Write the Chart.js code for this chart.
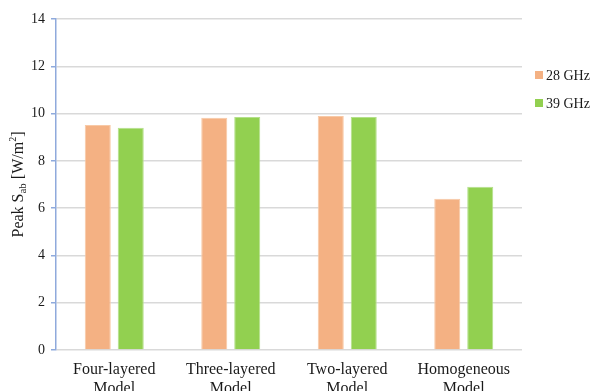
<!DOCTYPE html>
<html>
<head>
<meta charset="utf-8">
<script src="https://cdn.jsdelivr.net/npm/chart.js@4/dist/chart.umd.min.js"></script>
<style>
  html, body { margin: 0; padding: 0; background: #ffffff; }
  #wrap { width: 592px; height: 391px; position: relative; }
</style>
</head>
<body>
<div id="wrap"><canvas id="c" width="592" height="391"></canvas></div>
<script>
// Peak absorbed power density per tissue model
const categories = [
  ['Four-layered', 'Model'],
  ['Three-layered', 'Model'],
  ['Two-layered', 'Model'],
  ['Homogeneous', 'Model']
];
const seriesNames = ['28 GHz', '39 GHz'];
const values28 = [9.52, 9.82, 9.90, 6.40];
const values39 = [9.40, 9.85, 9.85, 6.90];
const yTicks = [0, 2, 4, 6, 8, 10, 12, 14];

const SERIF = '"Liberation Serif", "Times New Roman", serif';
const COLORS = ['#F4B183', '#92D050'];

// Rotated axis title with subscript "ab" and superscript "2"
const yTitlePlugin = {
  id: 'yTitle',
  afterDraw(chart) {
    const ctx = chart.ctx;
    const area = chart.chartArea;
    const parts = [
      { t: 'Peak S', size: 16, dy: 0 },
      { t: 'ab', size: 11, dy: 3 },
      { t: ' [W/m', size: 16, dy: 0 },
      { t: '2', size: 10, dy: -7 },
      { t: ']', size: 16, dy: 0 }
    ];
    ctx.save();
    let total = 0;
    parts.forEach(p => { ctx.font = p.size + 'px ' + SERIF; p.w = ctx.measureText(p.t).width; total += p.w; });
    ctx.translate(18, (area.top + area.bottom) / 2);
    ctx.rotate(-Math.PI / 2);
    ctx.fillStyle = '#1a1a1a';
    ctx.textBaseline = 'alphabetic';
    let x = -total / 2;
    parts.forEach(p => {
      ctx.font = p.size + 'px ' + SERIF;
      ctx.fillText(p.t, x, 5 + p.dy);
      x += p.w;
    });
    ctx.restore();
  }
};

// Legend to the right of the plot, drawn from the dataset labels and colours
const sideLegendPlugin = {
  id: 'sideLegend',
  afterDraw(chart) {
    const ctx = chart.ctx;
    ctx.save();
    ctx.font = '14px ' + SERIF;
    ctx.textBaseline = 'middle';
    chart.data.datasets.forEach((ds, i) => {
      const cy = 75 + i * 28;
      ctx.fillStyle = ds.backgroundColor;
      ctx.fillRect(535, cy - 4, 8, 8);
      ctx.fillStyle = '#1a1a1a';
      ctx.fillText(ds.label, 546, cy + 1);
    });
    ctx.restore();
  }
};

new Chart(document.getElementById('c'), {
  type: 'bar',
  data: {
    labels: categories,
    datasets: [
      { label: seriesNames[0], data: values28, backgroundColor: COLORS[0], borderColor: '#F8C9A6', borderWidth: 1 },
      { label: seriesNames[1], data: values39, backgroundColor: COLORS[1], borderColor: '#B4E08A', borderWidth: 1 }
    ]
  },
  options: {
    responsive: false,
    animation: false,
    devicePixelRatio: 1,
    categoryPercentage: 0.566,
    barPercentage: 0.79,
    layout: { padding: { left: 0, right: 70, top: 19, bottom: 0 } },
    plugins: {
      legend: { display: false },
      tooltip: { enabled: false }
    },
    scales: {
      x: {
        grid: { display: false },
        border: { display: false },
        ticks: {
          color: '#1a1a1a',
          font: { family: SERIF, size: 16, lineHeight: 1.15 },
          padding: 3,
          maxRotation: 0,
          autoSkip: false
        },
        afterFit(scale) { scale.height = 41; }
      },
      y: {
        min: 0,
        max: 14,
        afterBuildTicks(scale) { scale.ticks = yTicks.map(v => ({ value: v })); },
        grid: { color: '#D9D9D9', lineWidth: 1.5, tickColor: '#8FAADC', tickLength: 5 },
        border: { display: true, color: '#8FAADC', width: 1.5 },
        ticks: {
          color: '#1a1a1a',
          font: { family: SERIF, size: 14 },
          padding: 6
        },
        afterFit(scale) { scale.width = 56; }
      }
    }
  },
  plugins: [yTitlePlugin, sideLegendPlugin]
});
</script>
</body>
</html>
